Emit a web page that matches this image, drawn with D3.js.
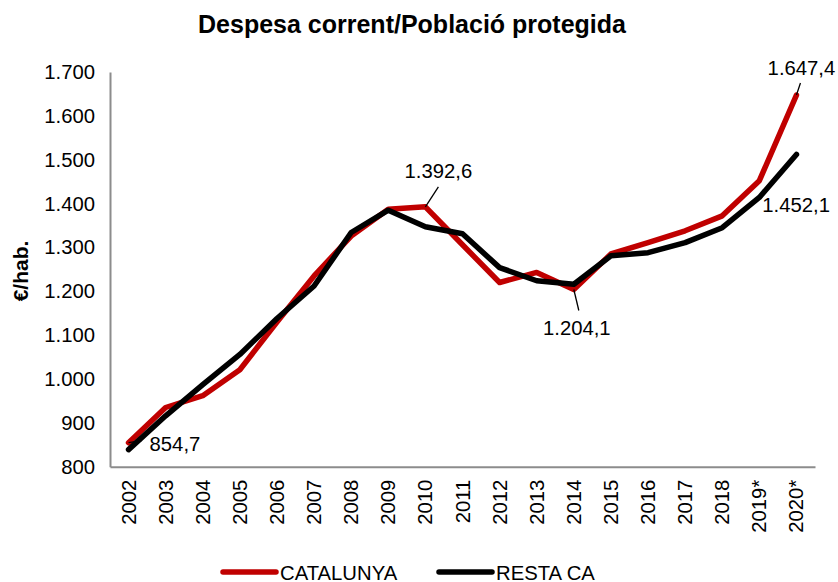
<!DOCTYPE html>
<html>
<head>
<meta charset="utf-8">
<script src="https://cdn.jsdelivr.net/npm/d3@7"></script>
<style>
body { margin: 0; background: #fff; }
svg { display: block; font-family: "Liberation Sans", Arial, sans-serif; }
svg text { font-family: "Liberation Sans", Arial, sans-serif; }
</style>
</head>
<body>
<svg id="chart" width="838" height="582"></svg>
<script>
const years = ["2002","2003","2004","2005","2006","2007","2008","2009","2010","2011","2012","2013","2014","2015","2016","2017","2018","2019*","2020*"];
const catalunya = [854.7, 935, 962, 1021, 1130, 1235, 1326, 1387, 1392.6, 1306, 1220, 1243, 1204.1, 1285, 1311, 1338, 1372, 1452.1, 1647.4];
const restaCA = [839, 916, 987, 1056, 1138, 1212, 1334, 1385, 1347, 1331, 1254, 1224, 1216, 1281, 1288, 1311, 1345, 1414, 1512];
const yTicks = [800, 900, 1000, 1100, 1200, 1300, 1400, 1500, 1600, 1700];
const seriesNames = ["CATALUNYA", "RESTA CA"];
const seriesColors = ["#C00000", "#000000"];
const annotations = [
  {series: 0, index: 0, text: "854,7"},
  {series: 0, index: 8, text: "1.392,6"},
  {series: 0, index: 12, text: "1.204,1"},
  {series: 0, index: 17, text: "1.452,1"},
  {series: 0, index: 18, text: "1.647,4"}
];

const FONT = "'Liberation Sans', Arial, sans-serif";
const svg = d3.select("#chart");
const plotL = 110, plotR = 815, plotT = 72, plotB = 466.7;

const x = d3.scaleBand().domain(years).range([plotL, plotR]);
const y = d3.scaleLinear().domain([800, 1700]).range([plotB, plotT]);
const fmt = d3.formatLocale({decimal: ",", thousands: ".", grouping: [3], currency: ["", "€"]}).format(",.0f");

// Title
svg.append("text").attr("x", 412).attr("y", 33).attr("text-anchor", "middle")
  .attr("font-family", FONT).attr("font-weight", "bold").attr("font-size", "25px")
  .text("Despesa corrent/Població protegida");

// Y axis title
svg.append("text").attr("transform", "translate(28,271) rotate(-90)").attr("text-anchor", "middle")
  .attr("font-family", FONT).attr("font-weight", "bold").attr("font-size", "21px").text("€/hab.");

// Y axis
const yAxis = svg.append("g").attr("transform", `translate(${plotL},0)`)
  .call(d3.axisLeft(y).tickValues(yTicks).tickFormat(fmt).tickSize(0).tickPadding(15));
yAxis.select(".domain").attr("stroke", "#8c8c8c").attr("stroke-width", 2);
yAxis.selectAll("text").attr("font-size", "20.3px").attr("fill", "#000").attr("font-family", FONT);

// X axis
const xAxis = svg.append("g").attr("transform", `translate(0,${plotB})`)
  .call(d3.axisBottom(x).tickSize(0).tickPadding(0));
xAxis.select(".domain").attr("stroke", "#8c8c8c").attr("stroke-width", 2);
xAxis.selectAll("text").attr("font-size", "20.3px").attr("fill", "#000").attr("font-family", FONT)
  .attr("text-anchor", "end").attr("dy", null).attr("y", 0)
  .attr("transform", "translate(7,13) rotate(-90)");

// Lines
const line = d3.line().x((d, i) => x(years[i]) + x.bandwidth() / 2).y(d => y(d));
[catalunya, restaCA].forEach((vals, k) => {
  svg.append("path").datum(vals).attr("d", line).attr("fill", "none")
    .attr("stroke", seriesColors[k]).attr("stroke-width", 5.5)
    .attr("stroke-linejoin", "round").attr("stroke-linecap", "round");
});

// Annotations
const seriesArr = [catalunya, restaCA];
const ann = svg.append("g").attr("font-size", "20.3px").attr("font-family", FONT).attr("fill", "#000");
const px = i => x(years[i]) + x.bandwidth() / 2;
annotations.forEach(a => {
  const cx = px(a.index), cy = y(seriesArr[a.series][a.index]);
  let lx, ly, tx, ty, anchor = "middle", leader = true;
  if (a.index === 0) { lx = cx + 13; ly = cy - 2; tx = cx + 21; ty = cy + 8; anchor = "start"; }
  else if (a.index === 8) { lx = cx + 13; ly = cy - 20; tx = cx + 13; ty = cy - 29; }
  else if (a.index === 12) { lx = cx + 5; ly = cy + 21; tx = cx + 3; ty = cy + 46; }
  else if (a.index === 17) { leader = false; tx = cx + 3; ty = cy + 31; anchor = "start"; }
  else { lx = cx + 4; ly = cy - 12; tx = cx + 5; ty = cy - 20; }
  if (leader) ann.append("line").attr("x1", cx).attr("y1", cy).attr("x2", lx).attr("y2", ly)
    .attr("stroke", "#000").attr("stroke-width", 1.3);
  ann.append("text").attr("x", tx).attr("y", ty).attr("text-anchor", anchor).text(a.text);
});

// Legend
const legend = svg.append("g");
const legX = [223, 439];
seriesNames.forEach((n, k) => {
  legend.append("line").attr("x1", legX[k]).attr("x2", legX[k] + 53).attr("y1", 572).attr("y2", 572)
    .attr("stroke", seriesColors[k]).attr("stroke-width", 5.5).attr("stroke-linecap", "round");
  legend.append("text").attr("x", legX[k] + 57).attr("y", 579.5).attr("font-family", FONT)
    .attr("font-size", "20.3px").text(n);
});
</script>
</body>
</html>
